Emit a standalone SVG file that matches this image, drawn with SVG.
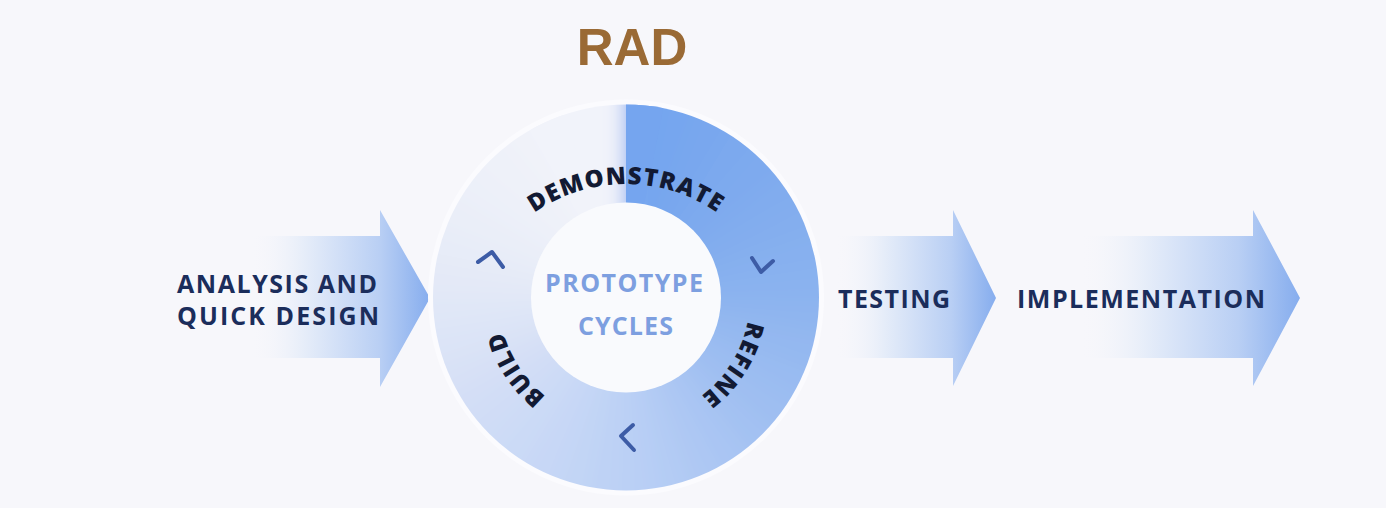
<svg xmlns="http://www.w3.org/2000/svg" width="1386" height="508" viewBox="0 0 1386 508">
<defs>
<linearGradient id="arrowGrad" x1="0" y1="0" x2="1" y2="0">
<stop offset="0" stop-color="#f7f7fb" stop-opacity="0"/>
<stop offset="0.3" stop-color="#e6edf9"/>
<stop offset="0.72" stop-color="#b9cff4"/>
<stop offset="1" stop-color="#86adee"/>
</linearGradient>
<clipPath id="outerClip"><circle cx="626" cy="297.5" r="193"/></clipPath>
<filter id="soft" x="-20%" y="-20%" width="140%" height="140%"><feGaussianBlur stdDeviation="10"/></filter>
<path id="arcDemo" d="M466,344 A160,160 0 0 1 786,344"/>
<path id="arcRefine" d="M721,217.8 A124,124 0 0 1 596,417.8"/>
<path id="arcBuild" d="M654.7,421.7 A127.5,127.5 0 0 1 524.2,220.8"/>
</defs>
<style>
.lbl{font-family:"Open Sans","Noto Sans","Liberation Sans",sans-serif;font-weight:700;fill:#1b2d5b}
.ring-lbl{font-family:"Open Sans","Noto Sans","Liberation Sans",sans-serif;font-weight:800;fill:#121a33;font-size:24px;letter-spacing:1.2px}
.center-lbl{font-family:"Open Sans","Noto Sans","Liberation Sans",sans-serif;font-weight:700;fill:#7d9fe0;font-size:25px}
.seg{fill:none;stroke-width:160;stroke-dasharray:28 1000}
.chev{fill:none;stroke:#3d5ca6;stroke-width:4;stroke-linecap:round;stroke-linejoin:round}
.arrow{fill:url(#arrowGrad)}
</style>
<rect x="0" y="0" width="1386" height="508" fill="#f7f7fb"/>
<text x="632" y="65" text-anchor="middle" font-family="Liberation Sans, Arial, sans-serif" font-weight="700" font-size="51" fill="#9a6a35">RAD</text>
<g id="connectors">
<g id="arrow-analysis">
<path class="arrow" d="M250,236 L380,236 L380,210 L430,298 L380,387 L380,358 L250,358 Z"/>
</g>
<g id="arrow-testing">
<path class="arrow" d="M835,236 L953,236 L953,210 L996,298 L953,386 L953,358 L835,358 Z"/>
</g>
<g id="arrow-implementation">
<path class="arrow" d="M1080,236 L1253,236 L1253,210 L1300,298 L1253,386 L1253,358 L1080,358 Z"/>
</g>
</g>
<g id="node-analysis">
<text class="lbl" x="177" y="293" font-size="25" textLength="200" lengthAdjust="spacing">ANALYSIS AND</text>
<text class="lbl" x="177" y="325" font-size="25" textLength="202" lengthAdjust="spacing">QUICK DESIGN</text>
</g>
<g id="node-cycle">
<circle cx="626" cy="297.5" r="198" fill="#fbfbfe"/>
<g id="ring" clip-path="url(#outerClip)">
<g filter="url(#soft)">
<circle class="seg" cx="626" cy="297.5" r="144" stroke="#f1f3fa" transform="rotate(260 626 297.5)"/>
<circle class="seg" cx="626" cy="297.5" r="144" stroke="#f1f3fa" transform="rotate(250 626 297.5)"/>
<circle class="seg" cx="626" cy="297.5" r="144" stroke="#f1f3fa" transform="rotate(240 626 297.5)"/>
<circle class="seg" cx="626" cy="297.5" r="144" stroke="#f0f2f9" transform="rotate(230 626 297.5)"/>
<circle class="seg" cx="626" cy="297.5" r="144" stroke="#eef1f9" transform="rotate(220 626 297.5)"/>
<circle class="seg" cx="626" cy="297.5" r="144" stroke="#ecf0f9" transform="rotate(210 626 297.5)"/>
<circle class="seg" cx="626" cy="297.5" r="144" stroke="#eaeef8" transform="rotate(200 626 297.5)"/>
<circle class="seg" cx="626" cy="297.5" r="144" stroke="#e7ecf8" transform="rotate(190 626 297.5)"/>
<circle class="seg" cx="626" cy="297.5" r="144" stroke="#e4e9f7" transform="rotate(180 626 297.5)"/>
<circle class="seg" cx="626" cy="297.5" r="144" stroke="#e0e7f7" transform="rotate(170 626 297.5)"/>
<circle class="seg" cx="626" cy="297.5" r="144" stroke="#dce4f7" transform="rotate(160 626 297.5)"/>
<circle class="seg" cx="626" cy="297.5" r="144" stroke="#d8e1f6" transform="rotate(150 626 297.5)"/>
<circle class="seg" cx="626" cy="297.5" r="144" stroke="#d3def6" transform="rotate(140 626 297.5)"/>
<circle class="seg" cx="626" cy="297.5" r="144" stroke="#cfdcf6" transform="rotate(130 626 297.5)"/>
<circle class="seg" cx="626" cy="297.5" r="144" stroke="#cbdaf6" transform="rotate(120 626 297.5)"/>
<circle class="seg" cx="626" cy="297.5" r="144" stroke="#c7d7f6" transform="rotate(110 626 297.5)"/>
<circle class="seg" cx="626" cy="297.5" r="144" stroke="#c2d5f5" transform="rotate(100 626 297.5)"/>
<circle class="seg" cx="626" cy="297.5" r="144" stroke="#bed2f5" transform="rotate(90 626 297.5)"/>
<circle class="seg" cx="626" cy="297.5" r="144" stroke="#b9cff5" transform="rotate(80 626 297.5)"/>
<circle class="seg" cx="626" cy="297.5" r="144" stroke="#b4ccf4" transform="rotate(70 626 297.5)"/>
<circle class="seg" cx="626" cy="297.5" r="144" stroke="#aec8f3" transform="rotate(60 626 297.5)"/>
<circle class="seg" cx="626" cy="297.5" r="144" stroke="#a9c5f3" transform="rotate(50 626 297.5)"/>
<circle class="seg" cx="626" cy="297.5" r="144" stroke="#a3c1f2" transform="rotate(40 626 297.5)"/>
<circle class="seg" cx="626" cy="297.5" r="144" stroke="#9ebef1" transform="rotate(30 626 297.5)"/>
<circle class="seg" cx="626" cy="297.5" r="144" stroke="#99bbf1" transform="rotate(20 626 297.5)"/>
<circle class="seg" cx="626" cy="297.5" r="144" stroke="#94b8f0" transform="rotate(10 626 297.5)"/>
<circle class="seg" cx="626" cy="297.5" r="144" stroke="#8fb5ef" transform="rotate(0 626 297.5)"/>
<circle class="seg" cx="626" cy="297.5" r="144" stroke="#8ab2ef" transform="rotate(-10 626 297.5)"/>
<circle class="seg" cx="626" cy="297.5" r="144" stroke="#87b0ef" transform="rotate(-20 626 297.5)"/>
<circle class="seg" cx="626" cy="297.5" r="144" stroke="#84aeee" transform="rotate(-30 626 297.5)"/>
<circle class="seg" cx="626" cy="297.5" r="144" stroke="#81acee" transform="rotate(-40 626 297.5)"/>
<circle class="seg" cx="626" cy="297.5" r="144" stroke="#7eaaee" transform="rotate(-50 626 297.5)"/>
<circle class="seg" cx="626" cy="297.5" r="144" stroke="#7ba9ee" transform="rotate(-60 626 297.5)"/>
<circle class="seg" cx="626" cy="297.5" r="144" stroke="#79a7ee" transform="rotate(-70 626 297.5)"/>
<circle class="seg" cx="626" cy="297.5" r="144" stroke="#76a6ef" transform="rotate(-80 626 297.5)"/>
<circle class="seg" cx="626" cy="297.5" r="144" stroke="#73a5ef" stroke-dasharray="25.13 1000" transform="rotate(-90 626 297.5)"/>
</g>
<circle class="seg" cx="626" cy="297.5" r="144" stroke="#f1f3fa" stroke-dasharray="75.4 1000" transform="rotate(240 626 297.5)"/>
<circle class="seg" cx="626" cy="297.5" r="144" stroke="#75a5ef" stroke-dasharray="45 1000" transform="rotate(-90 626 297.5)"/>
</g>
<circle cx="626" cy="297.5" r="95" fill="#f9fafd"/>
<polyline class="chev" points="478,262 492,252 503,267"/>
<polyline class="chev" points="752,258 761,272 773,261"/>
<polyline class="chev" points="633,425 621,436 634,450"/>
<text class="ring-lbl"><textPath href="#arcDemo" startOffset="50%" text-anchor="middle">DEMONSTRATE</textPath></text>
<text class="ring-lbl"><textPath href="#arcRefine" startOffset="50%" text-anchor="middle">REFINE</textPath></text>
<text class="ring-lbl"><textPath href="#arcBuild" startOffset="50%" text-anchor="middle">BUILD</textPath></text>
<text class="center-lbl" x="545" y="292" textLength="158" lengthAdjust="spacing">PROTOTYPE</text>
<text class="center-lbl" x="578" y="335" textLength="95" lengthAdjust="spacing">CYCLES</text>
</g>
<g id="node-testing">
<text class="lbl" x="838" y="308" font-size="25" textLength="112" lengthAdjust="spacing">TESTING</text>
</g>
<g id="node-implementation">
<text class="lbl" x="1017" y="308" font-size="25" textLength="248" lengthAdjust="spacing">IMPLEMENTATION</text>
</g>
</svg>
